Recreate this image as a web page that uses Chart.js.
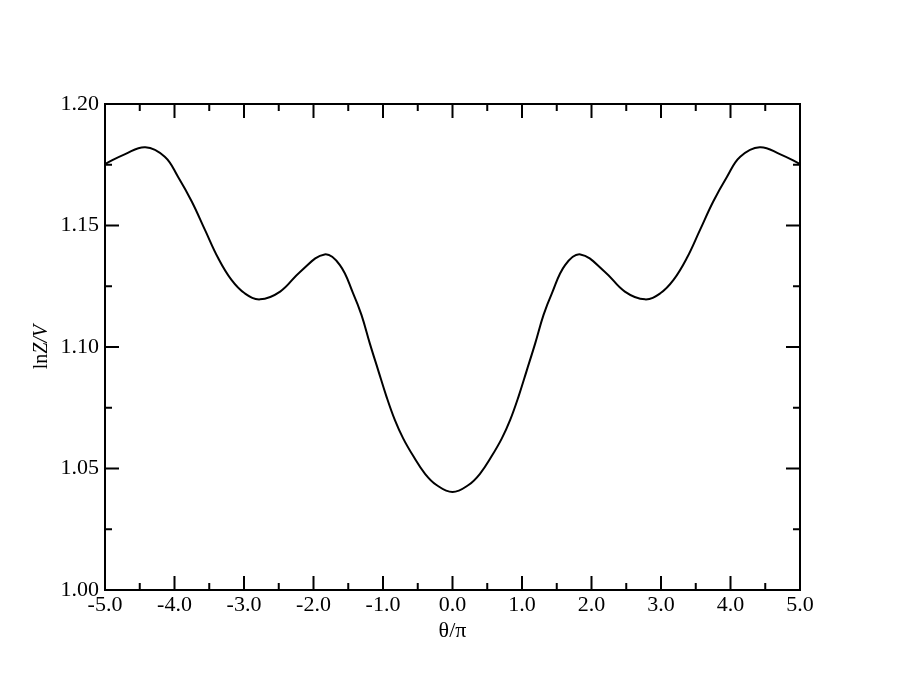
<!DOCTYPE html>
<html>
<head>
<meta charset="utf-8">
<script src="https://cdn.jsdelivr.net/npm/chart.js@4"></script>
<style>
  html, body { margin: 0; padding: 0; background: #fff; }
  canvas { display: block; }
</style>
</head>
<body>
<canvas id="c" width="900" height="695"></canvas>
<script>
// theta / pi
const thetaOverPi = [-5.0, -4.71, -4.42, -4.14, -3.95, -3.75, -3.56, -3.37, -3.18, -2.99, -2.77, -2.48, -2.19, -1.84, -1.62, -1.43, -1.31, -1.19, -1.07, -0.95, -0.83, -0.71, -0.56, -0.40, -0.23, 0.0,
                     0.23, 0.40, 0.56, 0.71, 0.83, 0.95, 1.07, 1.19, 1.31, 1.43, 1.62, 1.84, 2.19, 2.48, 2.77, 2.99, 3.18, 3.37, 3.56, 3.75, 3.95, 4.14, 4.42, 4.71, 5.0];
// ln Z / V
const lnZoverV = [1.1753, 1.1794, 1.1822, 1.1783, 1.1701, 1.1598, 1.1481, 1.1365, 1.1276, 1.1221, 1.1196, 1.1228, 1.1310, 1.1381, 1.1337, 1.1221, 1.1132, 1.1015, 1.0905, 1.0796, 1.0700, 1.0624, 1.0549, 1.0480, 1.0432, 1.0403,
                  1.0432, 1.0480, 1.0549, 1.0624, 1.0700, 1.0796, 1.0905, 1.1015, 1.1132, 1.1221, 1.1337, 1.1381, 1.1310, 1.1228, 1.1196, 1.1221, 1.1276, 1.1365, 1.1481, 1.1598, 1.1701, 1.1783, 1.1822, 1.1794, 1.1753];

const xMajorTicks = [-5, -4, -3, -2, -1, 0, 1, 2, 3, 4, 5];
const xMinorTicks = [-4.5, -3.5, -2.5, -1.5, -0.5, 0.5, 1.5, 2.5, 3.5, 4.5];
const yMajorTicks = [1.00, 1.05, 1.10, 1.15, 1.20];
const yMinorTicks = [1.025, 1.075, 1.125, 1.175];

const xTitle = 'θ/π';
const yTitleParts = [['ln', 'normal'], ['Z/V', 'italic']];

const FONT = '"Liberation Serif", "Times New Roman", serif';

const framePlugin = {
  id: 'frame',
  afterDatasetsDraw(chart) {
    const { ctx, chartArea: a, scales } = chart;
    const xs = scales.x, ys = scales.y;
    ctx.save();
    ctx.strokeStyle = '#000';
    ctx.lineWidth = 2;
    ctx.lineCap = 'butt';
    ctx.beginPath();
    const tickX = (vals, len) => {
      vals.forEach(v => {
        const px = xs.getPixelForValue(v);
        ctx.moveTo(px, a.bottom); ctx.lineTo(px, a.bottom - len);
        ctx.moveTo(px, a.top); ctx.lineTo(px, a.top + len);
      });
    };
    const tickY = (vals, len) => {
      vals.forEach(v => {
        const py = ys.getPixelForValue(v);
        ctx.moveTo(a.left, py); ctx.lineTo(a.left + len, py);
        ctx.moveTo(a.right, py); ctx.lineTo(a.right - len, py);
      });
    };
    tickX(xMajorTicks, 14);
    tickX(xMinorTicks, 7);
    tickY(yMajorTicks, 14);
    tickY(yMinorTicks, 7);
    ctx.stroke();
    ctx.strokeRect(a.left, a.top, a.right - a.left, a.bottom - a.top);
    ctx.restore();
  },
  afterDraw(chart) {
    const { ctx, chartArea: a } = chart;
    ctx.save();
    const size = 20;
    let total = 0;
    const widths = yTitleParts.map(([t, st]) => {
      ctx.font = st + ' ' + size + 'px ' + FONT;
      const w = ctx.measureText(t).width;
      total += w;
      return w;
    });
    ctx.translate(42, (a.top + a.bottom) / 2);
    ctx.rotate(-Math.PI / 2);
    ctx.fillStyle = '#000';
    ctx.textBaseline = 'middle';
    ctx.textAlign = 'left';
    let x = -total / 2;
    yTitleParts.forEach(([t, st], i) => {
      ctx.font = st + ' ' + size + 'px ' + FONT;
      ctx.fillText(t, x, 0);
      x += widths[i];
    });
    ctx.restore();
  }
};

new Chart(document.getElementById('c'), {
  type: 'line',
  data: {
    datasets: [{
      data: thetaOverPi.map((t, i) => ({ x: t, y: lnZoverV[i] })),
      borderColor: '#000',
      borderWidth: 2,
      pointRadius: 0,
      fill: false,
      tension: 0.4
    }]
  },
  options: {
    responsive: false,
    animation: false,
    devicePixelRatio: 1,
    layout: { padding: { top: 104, right: 100, left: 0, bottom: 0 } },
    plugins: { legend: { display: false }, tooltip: { enabled: false } },
    scales: {
      x: {
        type: 'linear',
        min: -5, max: 5,
        afterBuildTicks: (s) => { s.ticks = xMajorTicks.map(v => ({ value: v })); },
        afterFit: (s) => { s.height = 105; },
        grid: { display: false, drawTicks: false },
        border: { display: false },
        ticks: {
          color: '#000',
          font: { family: FONT, size: 22 },
          padding: 2,
          maxRotation: 0,
          autoSkip: false,
          callback: (v) => Number(v).toFixed(1)
        },
        title: {
          display: true,
          text: xTitle,
          color: '#000',
          font: { family: FONT, size: 22 },
          padding: { top: 51, bottom: 51 }
        }
      },
      y: {
        type: 'linear',
        min: 1.0, max: 1.2,
        afterBuildTicks: (s) => { s.ticks = yMajorTicks.map(v => ({ value: v })); },
        afterFit: (s) => { s.width = 105; },
        grid: { display: false, drawTicks: false },
        border: { display: false },
        ticks: {
          color: '#000',
          font: { family: FONT, size: 22 },
          padding: 6,
          autoSkip: false,
          callback: (v) => Number(v).toFixed(2)
        }
      }
    }
  },
  plugins: [framePlugin]
});
</script>
</body>
</html>
